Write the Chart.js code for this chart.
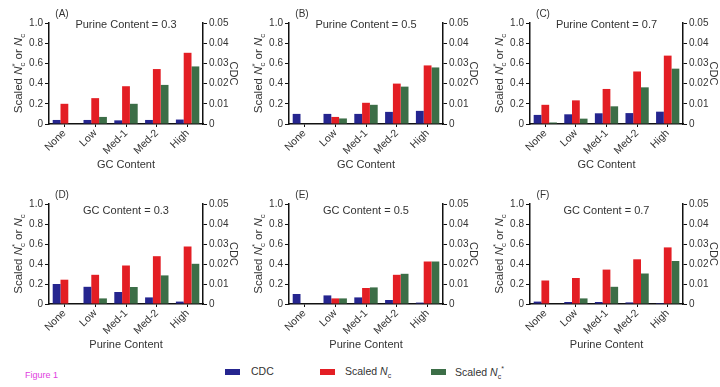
<!DOCTYPE html>
<html>
<head>
<meta charset="utf-8">
<script src="https://cdn.jsdelivr.net/npm/chart.js@4.4.1/dist/chart.umd.min.js"></script>
<style>
  body { margin: 0; background: #fff; font-family: "Liberation Sans", Arial, sans-serif; }
  #wrap { position: relative; width: 720px; height: 387px; overflow: hidden; }
  #wrap canvas { position: absolute; }
  .leg { position: absolute; top: 365px; font-size: 10.5px; color: #333; }
  .box { position: absolute; width: 15px; height: 6px; top: 369px; }
  #fig { position: absolute; left: 25px; top: 370px; font-size: 9px; color: #e040e0; }
  sub { font-size: 7px; }
  sup { font-size: 7px; }
</style>
</head>
<body>
<div id="wrap">
  <canvas id="pA" width="240" height="180" style="left:0;top:0"></canvas>
  <canvas id="pB" width="240" height="180" style="left:240px;top:0"></canvas>
  <canvas id="pC" width="239" height="180" style="left:481px;top:0"></canvas>
  <canvas id="pD" width="240" height="180" style="left:0;top:180px"></canvas>
  <canvas id="pE" width="240" height="180" style="left:240px;top:180px"></canvas>
  <canvas id="pF" width="239" height="180" style="left:481px;top:180px"></canvas>

  <div id="fig">Figure 1</div>
  <div class="box" style="left:225px;background:#25258f"></div>
  <div class="leg" style="left:251px">CDC</div>
  <div class="box" style="left:320px;background:#e31e24"></div>
  <div class="leg" style="left:345px">Scaled <i>N</i><sub>c</sub></div>
  <div class="box" style="left:431px;background:#3c6e47"></div>
  <div class="leg" style="left:455px">Scaled <i>N</i><sub>c</sub><sup>*</sup></div>
</div>
<script>
const categories = ['None', 'Low', 'Med-1', 'Med-2', 'High'];

// top row: purine content fixed, GC content varies
const cdcA = [0.002, 0.002, 0.0018, 0.002, 0.0022];
const ncA = [0.2, 0.256, 0.374, 0.544, 0.705];
const ncStarA = [0, 0.07, 0.2, 0.387, 0.57];

const cdcB = [0.005, 0.005, 0.005, 0.006, 0.0065];
const ncB = [0, 0.07, 0.21, 0.4, 0.58];
const ncStarB = [0, 0.055, 0.19, 0.37, 0.56];

const cdcC = [0.0045, 0.0048, 0.0053, 0.0054, 0.0061];
const ncC = [0.19, 0.234, 0.347, 0.52, 0.677];
const ncStarC = [0.015, 0.053, 0.175, 0.363, 0.548];

// bottom row: GC content fixed, purine content varies
const cdcD = [0.01, 0.0086, 0.006, 0.0033, 0.0012];
const ncD = [0.243, 0.292, 0.385, 0.478, 0.575];
const ncStarD = [0, 0.056, 0.17, 0.286, 0.402];

const cdcE = [0.005, 0.0043, 0.0033, 0.002, 0.0007];
const ncE = [0, 0.056, 0.16, 0.292, 0.425];
const ncStarE = [0, 0.056, 0.166, 0.302, 0.425];

const cdcF = [0.0012, 0.001, 0.001, 0.0008, 0.0005];
const ncF = [0.235, 0.26, 0.344, 0.447, 0.566];
const ncStarF = [0, 0.056, 0.172, 0.305, 0.43];

const leftTicks = ['0', '0.2', '0.4', '0.6', '0.8', '1.0'];
const rightTicks = ['0', '0.01', '0.02', '0.03', '0.04', '0.05'];

const FONT = '"Liberation Sans", Arial, sans-serif';
const INK = '#333';

// draw a run of text with italic / sub / sup pieces, centred on (0,0)
function richText(ctx, parts, size) {
    var small = size * 0.68;
    var w = 0;
    parts.forEach(function (p) {
        if (p.sub !== undefined) {
            ctx.font = small + 'px ' + FONT;
            p.w = Math.max(ctx.measureText(p.sub).width, ctx.measureText(p.sup || '').width);
        } else {
            ctx.font = (p.i ? 'italic ' : '') + size + 'px ' + FONT;
            p.w = ctx.measureText(p.t).width;
        }
        w += p.w;
    });
    var x = -w / 2;
    ctx.textAlign = 'left';
    ctx.textBaseline = 'middle';
    parts.forEach(function (p) {
        if (p.sub !== undefined) {
            ctx.font = small + 'px ' + FONT;
            ctx.fillText(p.sub, x, size * 0.3);
            if (p.sup) ctx.fillText(p.sup, x, -size * 0.4);
        } else {
            ctx.font = (p.i ? 'italic ' : '') + size + 'px ' + FONT;
            ctx.fillText(p.t, x, 0);
        }
        x += p.w;
    });
}

const panelText = {
    id: 'panelText',
    afterDraw(chart, args, opts) {
        const ctx = chart.ctx;
        const area = chart.chartArea;
        ctx.save();
        ctx.fillStyle = INK;
        ctx.textBaseline = 'middle';
        ctx.textAlign = 'center';
        ctx.font = '10px ' + FONT;
        ctx.fillText(opts.letter, area.left + 13, opts.letterY);
        ctx.font = '11px ' + FONT;
        ctx.fillText(opts.title, (area.left + area.right) / 2, opts.titleY);

        ctx.translate(19, (area.top + area.bottom) / 2);
        ctx.rotate(-Math.PI / 2);
        richText(ctx, [
            {t: 'Scaled '}, {t: 'N', i: true}, {sub: 'c', sup: '*'},
            {t: ' or '}, {t: 'N', i: true}, {sub: 'c'}
        ], 11.5);
        ctx.restore();
    }
};

function makePanel(id, cdc, nc, ncStar, opts) {
    new Chart(document.getElementById(id), {
        type: 'bar',
        data: {
            labels: categories,
            datasets: [
                {label: 'CDC', data: cdc, yAxisID: 'y1', backgroundColor: '#25258f'},
                {label: 'Scaled Nc', data: nc, yAxisID: 'y', backgroundColor: '#e31e24'},
                {label: 'Scaled Nc*', data: ncStar, yAxisID: 'y', backgroundColor: '#3c6e47'}
            ]
        },
        options: {
            responsive: false,
            animation: false,
            devicePixelRatio: 1,
            layout: {padding: {top: opts.top, bottom: 4, left: 0, right: 0}},
            datasets: {bar: {categoryPercentage: 0.76, barPercentage: 1.0, borderWidth: 0}},
            plugins: {
                legend: {display: false},
                tooltip: {enabled: false},
                panelText: opts
            },
            scales: {
                x: {
                    afterFit: function (s) { s.height = 52; },
                    border: {color: '#111', width: 1.5},
                    grid: {display: true, drawOnChartArea: false, offset: false, tickLength: 3, color: '#111'},
                    ticks: {
                        color: INK, font: {family: FONT, size: 10.5},
                        minRotation: 45, maxRotation: 45, padding: 0
                    },
                    title: {display: true, text: opts.xTitle, color: INK, font: {family: FONT, size: 11}, padding: {top: 0, bottom: 4}}
                },
                y: {
                    position: 'left',
                    min: 0, max: 1,
                    afterFit: function (s) { s.width = 49; },
                    border: {color: '#111', width: 1.5},
                    grid: {display: true, drawOnChartArea: false, tickLength: 4, color: '#111'},
                    ticks: {
                        stepSize: 0.2, color: INK, font: {family: FONT, size: 10}, padding: 2,
                        callback: function (v, i) { return leftTicks[i]; }
                    }
                },
                y1: {
                    position: 'right',
                    min: 0, max: 0.05,
                    afterFit: function (s) { s.width = opts.rightW; },
                    border: {color: '#111', width: 1.5},
                    grid: {display: true, drawOnChartArea: false, tickLength: 4, color: '#111'},
                    ticks: {
                        stepSize: 0.01, color: INK, font: {family: FONT, size: 10}, padding: 2,
                        callback: function (v, i) { return rightTicks[i]; }
                    },
                    title: {display: true, text: 'CDC', color: INK, font: {family: FONT, size: 11}, padding: {top: 0, bottom: 0}}
                }
            }
        },
        plugins: [panelText]
    });
}

makePanel('pA', cdcA, ncA, ncStarA, {letter: '(A)', title: 'Purine Content = 0.3', xTitle: 'GC Content', top: 23, letterY: 14, titleY: 25, rightW: 37});
makePanel('pB', cdcB, ncB, ncStarB, {letter: '(B)', title: 'Purine Content = 0.5', xTitle: 'GC Content', top: 23, letterY: 14, titleY: 25, rightW: 37});
makePanel('pC', cdcC, ncC, ncStarC, {letter: '(C)', title: 'Purine Content = 0.7', xTitle: 'GC Content', top: 23, letterY: 14, titleY: 25, rightW: 37});
makePanel('pD', cdcD, ncD, ncStarD, {letter: '(D)', title: 'GC Content = 0.3', xTitle: 'Purine Content', top: 24, letterY: 15, titleY: 31, rightW: 37});
makePanel('pE', cdcE, ncE, ncStarE, {letter: '(E)', title: 'GC Content = 0.5', xTitle: 'Purine Content', top: 24, letterY: 15, titleY: 31, rightW: 37});
makePanel('pF', cdcF, ncF, ncStarF, {letter: '(F)', title: 'GC Content = 0.7', xTitle: 'Purine Content', top: 24, letterY: 15, titleY: 31, rightW: 37});
</script>
</body>
</html>
